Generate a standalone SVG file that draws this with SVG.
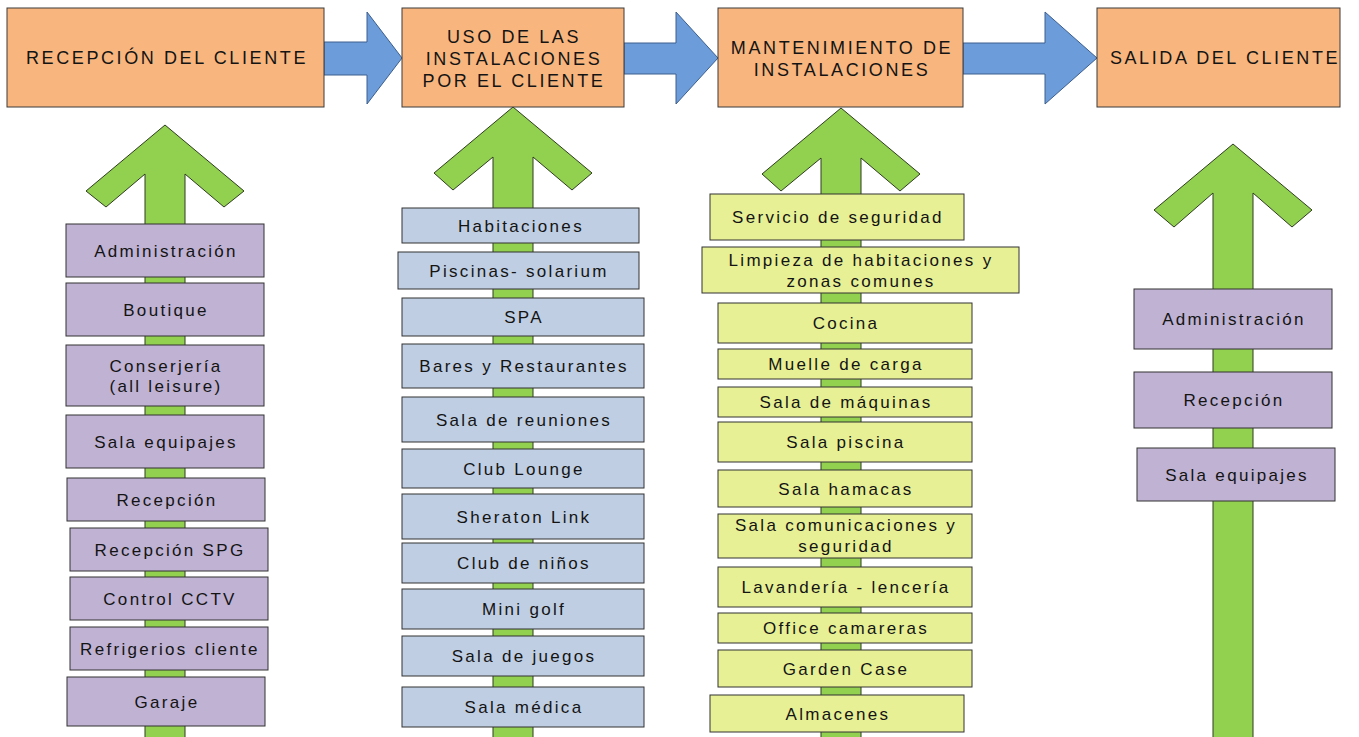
<svg xmlns="http://www.w3.org/2000/svg" width="1359" height="737" viewBox="0 0 1359 737">
<style>
text{font-family:"Liberation Sans",Arial,sans-serif;fill:#141414;text-anchor:middle}
.h{font-size:18px;letter-spacing:2.6px}
.t{font-size:17px;letter-spacing:2.3px}
.stage{fill:#F8B67E;stroke:#3a3a3a;stroke-width:1}
.pu{fill:#BFB2D3;stroke:#333;stroke-width:1}
.bg{fill:#BFCEE2;stroke:#333;stroke-width:1}
.ye{fill:#E7F095;stroke:#333;stroke-width:1}
.blue{fill:#6C9CD9;stroke:#3c5f8f;stroke-width:1}
.green{fill:#92D050;stroke:#2e3d1e;stroke-width:1}
</style>
<rect width="1359" height="737" fill="#fff"/>
<g id="connectors">
<path class="blue" d="M324,42 L367,42 L367,12 L402,58 L367,104 L367,75 L324,75 Z"/>
<path class="blue" d="M624,43 L676,43 L676,12 L718,58 L676,104 L676,74 L624,74 Z"/>
<path class="blue" d="M963,43 L1045,43 L1045,12 L1097,58 L1045,104 L1045,74 L963,74 Z"/>
<path class="green" d="M165,125 L244,191 L224,207 L185,174 L185,740 L145,740 L145,174 L106,207 L86,191 Z"/>
<path class="green" d="M513,107 L592,173 L572,190 L533,157 L533,740 L493,740 L493,157 L453,190 L434,173 Z"/>
<path class="green" d="M841,108 L920,174 L900,191 L861,158 L861,740 L821,740 L821,158 L781,191 L762,174 Z"/>
<path class="green" d="M1233,144 L1312,210 L1292,227 L1253,193 L1253,740 L1213,740 L1213,193 L1174,227 L1154,210 Z"/>
</g>
<g id="stage1"><rect class="stage" x="7" y="8" width="317" height="99"/><text class="h" x="167" y="64">RECEPCIÓN DEL CLIENTE</text></g>
<g id="stage2"><rect class="stage" x="402" y="8" width="222" height="99"/><text class="h" x="514" y="43">USO DE LAS</text><text class="h" x="514" y="65">INSTALACIONES</text><text class="h" x="514" y="87">POR EL CLIENTE</text></g>
<g id="stage3"><rect class="stage" x="718" y="8" width="245" height="99"/><text class="h" x="842" y="54">MANTENIMIENTO DE</text><text class="h" x="842" y="76">INSTALACIONES</text></g>
<g id="stage4"><rect class="stage" x="1097" y="8" width="243" height="99"/><text class="h" x="1225" y="64">SALIDA DEL CLIENTE</text></g>

<g id="c1-administracion"><rect class="pu" x="66" y="224" width="198" height="53"/><text class="t" x="166" y="256.5">Administración</text></g>
<g id="c1-boutique"><rect class="pu" x="66" y="283" width="198" height="53"/><text class="t" x="166" y="315.5">Boutique</text></g>
<g id="c1-conserjeria"><rect class="pu" x="66" y="345" width="198" height="61"/><text class="t" x="166" y="372">Conserjería</text><text class="t" x="166" y="392">(all leisure)</text></g>
<g id="c1-sala-equipajes"><rect class="pu" x="66" y="415" width="198" height="53"/><text class="t" x="166" y="447.5">Sala equipajes</text></g>
<g id="c1-recepcion"><rect class="pu" x="67" y="478" width="198" height="43"/><text class="t" x="167" y="505.5">Recepción</text></g>
<g id="c1-recepcion-spg"><rect class="pu" x="70" y="528" width="198" height="43"/><text class="t" x="170" y="555.5">Recepción SPG</text></g>
<g id="c1-control-cctv"><rect class="pu" x="70" y="577" width="198" height="43"/><text class="t" x="170" y="604.5">Control CCTV</text></g>
<g id="c1-refrigerios"><rect class="pu" x="70" y="627" width="198" height="43"/><text class="t" x="170" y="654.5">Refrigerios cliente</text></g>
<g id="c1-garaje"><rect class="pu" x="67" y="677" width="198" height="49"/><text class="t" x="167" y="707.5">Garaje</text></g>

<g id="c2-habitaciones"><rect class="bg" x="402" y="208" width="237" height="35"/><text class="t" x="521" y="231.5">Habitaciones</text></g>
<g id="c2-piscinas"><rect class="bg" x="398" y="252" width="241" height="37"/><text class="t" x="519" y="276.5">Piscinas- solarium</text></g>
<g id="c2-spa"><rect class="bg" x="402" y="298" width="242" height="38"/><text class="t" x="524" y="323">SPA</text></g>
<g id="c2-bares"><rect class="bg" x="402" y="344" width="242" height="44"/><text class="t" x="524" y="372">Bares y Restaurantes</text></g>
<g id="c2-reuniones"><rect class="bg" x="402" y="397" width="242" height="45"/><text class="t" x="524" y="425.5">Sala de reuniones</text></g>
<g id="c2-club-lounge"><rect class="bg" x="402" y="449" width="242" height="39"/><text class="t" x="524" y="474.5">Club Lounge</text></g>
<g id="c2-sheraton"><rect class="bg" x="402" y="494" width="242" height="45"/><text class="t" x="524" y="522.5">Sheraton Link</text></g>
<g id="c2-club-ninos"><rect class="bg" x="402" y="543" width="242" height="40"/><text class="t" x="524" y="569">Club de niños</text></g>
<g id="c2-mini-golf"><rect class="bg" x="402" y="589" width="242" height="40"/><text class="t" x="524" y="615">Mini golf</text></g>
<g id="c2-juegos"><rect class="bg" x="402" y="636" width="242" height="40"/><text class="t" x="524" y="662">Sala de juegos</text></g>
<g id="c2-medica"><rect class="bg" x="402" y="687" width="242" height="40"/><text class="t" x="524" y="713">Sala médica</text></g>

<g id="c3-seguridad"><rect class="ye" x="710" y="194" width="254" height="46"/><text class="t" x="838" y="223">Servicio de seguridad</text></g>
<g id="c3-limpieza"><rect class="ye" x="702" y="247" width="317" height="46"/><text class="t" x="861" y="265.5">Limpieza de habitaciones y</text><text class="t" x="861" y="286.5">zonas comunes</text></g>
<g id="c3-cocina"><rect class="ye" x="718" y="303" width="254" height="40"/><text class="t" x="846" y="329">Cocina</text></g>
<g id="c3-muelle"><rect class="ye" x="718" y="349" width="254" height="30"/><text class="t" x="846" y="370">Muelle de carga</text></g>
<g id="c3-maquinas"><rect class="ye" x="718" y="387" width="254" height="30"/><text class="t" x="846" y="408">Sala de máquinas</text></g>
<g id="c3-piscina"><rect class="ye" x="718" y="422" width="254" height="40"/><text class="t" x="846" y="448">Sala piscina</text></g>
<g id="c3-hamacas"><rect class="ye" x="718" y="470" width="254" height="37"/><text class="t" x="846" y="494.5">Sala hamacas</text></g>
<g id="c3-comunicaciones"><rect class="ye" x="718" y="514" width="254" height="44"/><text class="t" x="846" y="530.5">Sala comunicaciones y</text><text class="t" x="846" y="551.5">seguridad</text></g>
<g id="c3-lavanderia"><rect class="ye" x="718" y="567" width="254" height="40"/><text class="t" x="846" y="593">Lavandería - lencería</text></g>
<g id="c3-office"><rect class="ye" x="718" y="613" width="254" height="30"/><text class="t" x="846" y="634">Office camareras</text></g>
<g id="c3-garden"><rect class="ye" x="718" y="650" width="254" height="37"/><text class="t" x="846" y="674.5">Garden Case</text></g>
<g id="c3-almacenes"><rect class="ye" x="710" y="695" width="254" height="37"/><text class="t" x="838" y="719.5">Almacenes</text></g>

<g id="c4-administracion"><rect class="pu" x="1134" y="289" width="198" height="60"/><text class="t" x="1234" y="325">Administración</text></g>
<g id="c4-recepcion"><rect class="pu" x="1134" y="372" width="198" height="56"/><text class="t" x="1234" y="406">Recepción</text></g>
<g id="c4-sala-equipajes"><rect class="pu" x="1137" y="448" width="198" height="53"/><text class="t" x="1237" y="480.5">Sala equipajes</text></g>
</svg>
